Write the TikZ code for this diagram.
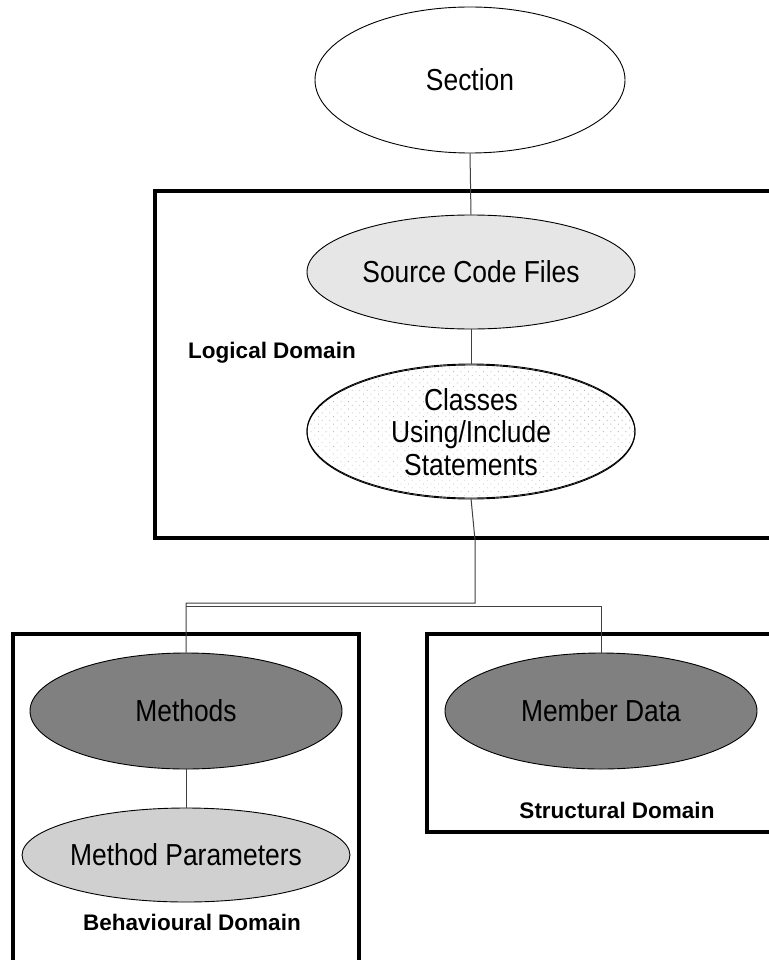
\documentclass[tikz,border=0pt]{standalone}
\usepackage{fontspec}
\setmainfont{Liberation Sans}
\usetikzlibrary{shapes.geometric,patterns.meta}

\definecolor{lightfill}{HTML}{E6E6E6}
\definecolor{paramfill}{HTML}{D0D0D0}
\definecolor{darkfill}{HTML}{808080}
\definecolor{linkgray}{HTML}{404040}

% slightly tall lettering for the entity names
\newcommand{\tallword}[1]{\scalebox{1}[1.15]{#1}}

\tikzset{
  bubble/.style={ellipse, draw=black, line width=0.9pt, inner sep=0pt,
    font=\fontsize{26.4}{32.5}\selectfont, align=center},
  domainbox/.style={draw=black, line width=4pt, line join=miter},
  domainlabel/.style={font=\fontsize{22.5}{26}\selectfont\bfseries},
  link/.style={draw=linkgray, line width=1pt},
}

\begin{document}
\begin{tikzpicture}[x=1pt,y=-1pt]
\useasboundingbox[fill=white] (0,0) rectangle (768,960);

% domain frames
\draw[domainbox] (770,191) -- (155,191) -- (155,538) -- (770,538);
\draw[domainbox] (13,965) -- (13,634) -- (359,634) -- (359,965);
\draw[domainbox] (770,634) -- (427,634) -- (427,832) -- (770,832);

% entities
\node[bubble, fill=white, minimum width=310pt, minimum height=146pt] (section) at (470,80) {\tallword{Section}};
\node[bubble, fill=lightfill, minimum width=328pt, minimum height=114pt] (files) at (471,272) {\tallword{Source Code Files}};
\node[bubble, fill=white, minimum width=328pt, minimum height=134pt] (classes) at (471,431) {};
\fill[pattern={Dots[distance=5.3pt, angle=45, radius=0.6pt]}, pattern color=gray!55]
  (classes.center) ellipse[x radius=163pt, y radius=66pt];
\node[bubble, minimum width=328pt, minimum height=134pt] at (471,432)
  {\tallword{Classes}\\\tallword{Using/Include}\\\tallword{Statements}};
\node[bubble, fill=darkfill, minimum width=312pt, minimum height=116pt] (methods) at (186,711) {\tallword{Methods}};
\node[bubble, fill=paramfill, minimum width=312pt, minimum height=94pt] (params) at (186,855) {\tallword{Method Parameters}};
\node[bubble, fill=darkfill, minimum width=312pt, minimum height=116pt] (member) at (601,711) {\tallword{Member Data}};

% domain names
\node[domainlabel] (logical) at (272,353) {Logical Domain};
\node[domainlabel] (behav) at (192,922) {Behavioural Domain};
\node[domainlabel] (struct) at (617,810) {Structural Domain};

% connectors
\coordinate (j1) at (475,540);
\coordinate (j2) at (475,603);
\coordinate (j3) at (186,603);
\coordinate (j4) at (186,606);
\coordinate (j5) at (601,606);
\draw[link] (section.south) -- (files.north);
\draw[link] (files.south) -- (classes.north);
\draw[link] (classes.south) -- (j1) -- (j2) -- (j3) -- (methods.north);
\draw[link] (j4) -- (j5) -- (member.north);
\draw[link] (methods.south) -- (params.north);
\end{tikzpicture}
\end{document}
